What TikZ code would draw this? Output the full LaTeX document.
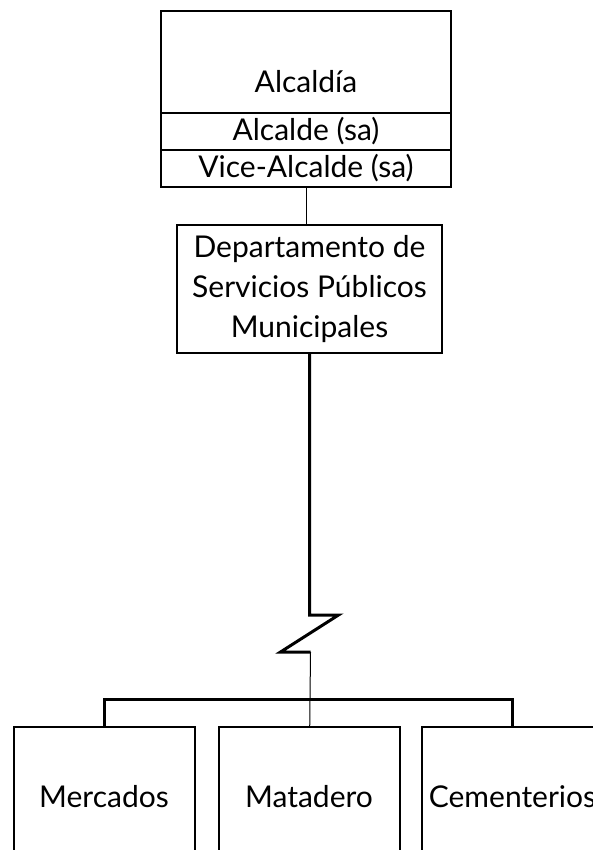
\documentclass[tikz,border=0pt]{standalone}
\usepackage{fontspec}
\setmainfont{Lato}
\usetikzlibrary{positioning}

\begin{document}
\begin{tikzpicture}[x=1pt, y=-1pt, box/.style = {draw, line width=2pt, outer sep=0pt, inner sep=0pt, minimum width=290pt, font=\fontsize{30}{40}\selectfont}, unit/.style = {draw, line width=2pt, outer sep=0pt, minimum width=181pt, minimum height=140pt, anchor=north, font=\fontsize{30}{40}\selectfont}, heavy/.style = {line width=3pt}, light/.style = {line width=1pt}]
    \useasboundingbox (0,0) rectangle (593,850);
    \clip (0,0) rectangle (593,850);
    \node[box, minimum height=102pt, text height=62pt, text depth=0pt, anchor=north] (1) at (306,11) {Alcaldía};
    \node[box, minimum height=37pt, below=0pt of 1] (2) {Alcalde (sa)};
    \node[box, minimum height=37pt, below=0pt of 2] (3) {Vice-Alcalde (sa)};
    \node[box, minimum width=265pt, minimum height=128pt, align=center] (4) at (309.5,289) {Departamento de\\Servicios Públicos\\Municipales};
    \node[unit] (5) at (104,727) {Mercados};
    \node[unit] (6) at (309,727) {Matadero};
    \node[unit] (7) at (512.5,727) {Cementerios};
    \draw[light] (3) -- (3 |- 4.north);
    \draw[heavy] (4) -- (4.south |- 0,615) -- ++(29,0) -- ++(-58,37) -- ++(30,0) coordinate (z);
    \draw[light] (z) -- (6);
    \draw[heavy] (5.north) -- ++(0,-28) -| (7.north);
\end{tikzpicture}
\end{document}
